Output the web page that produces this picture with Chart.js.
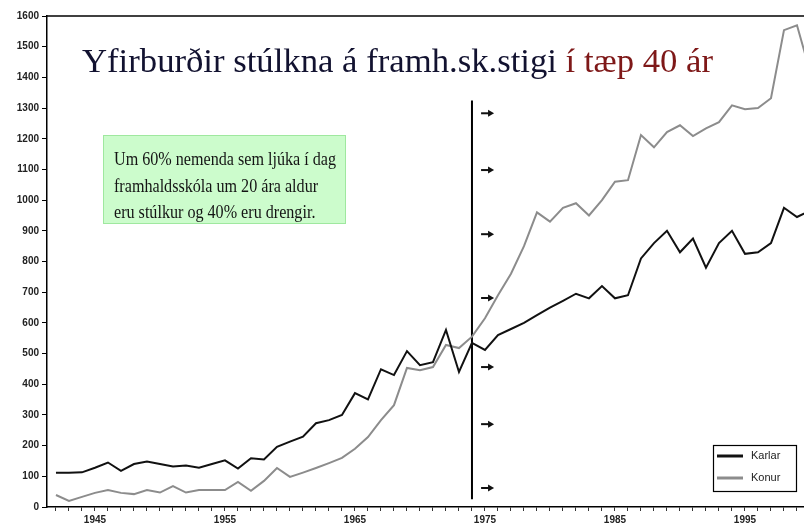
<!DOCTYPE html>
<html lang="is">
<head>
    <meta charset="UTF-8">
    <title>Yfirburðir stúlkna á framh.sk.stigi</title>
    <script src="https://cdn.jsdelivr.net/npm/chart.js"></script>
    <style>
        html, body { margin: 0; padding: 0; background: #fff; overflow: hidden; }
        canvas { display: block; }
    </style>
</head>
<body>
    <canvas id="chart" width="804" height="529"></canvas>

    <script>
        // ár (1942 - 2000)
        const years = [1942, 1943, 1944, 1945, 1946, 1947, 1948, 1949, 1950, 1951,
                       1952, 1953, 1954, 1955, 1956, 1957, 1958, 1959, 1960, 1961,
                       1962, 1963, 1964, 1965, 1966, 1967, 1968, 1969, 1970, 1971,
                       1972, 1973, 1974, 1975, 1976, 1977, 1978, 1979, 1980, 1981,
                       1982, 1983, 1984, 1985, 1986, 1987, 1988, 1989, 1990, 1991,
                       1992, 1993, 1994, 1995, 1996, 1997, 1998, 1999, 2000];

        const karlar = [112, 112, 113, 128, 145, 118, 140, 148, 140, 132,
                        135, 128, 140, 152, 125, 159, 155, 196, 213, 229,
                        273, 283, 300, 371, 351, 449, 430, 508, 462, 472,
                        577, 440, 535, 512, 560, 580, 600, 625, 650, 672,
                        695, 680, 720, 680, 690, 810, 860, 900, 830, 875,
                        780, 860, 900, 825, 830, 860, 975, 945, 965];

        const konur = [39, 20, 33, 46, 55, 46, 42, 55, 47, 68,
                       47, 55, 55, 55, 82, 53, 85, 127, 98, 112,
                       127, 143, 160, 190, 228, 283, 332, 453, 446, 456,
                       528, 518, 555, 615, 690, 760, 850, 960, 930, 975,
                       990, 950, 1000, 1060, 1065, 1212, 1172, 1222, 1244, 1209,
                       1234, 1254, 1309, 1296, 1300, 1332, 1554, 1570, 1420];

        const seriesNames = ['Karlar', 'Konur'];
        const seriesColors = ['#111111', '#8c8c8c'];

        // lóðrétt lína við 1974 og örvarnar hægra megin við hana
        const markerYear = 1974;
        const markerRange = [25, 1325];
        const arrowYears = [1974.7, 1975.7];
        const arrowValues = [1283, 1098, 889, 681, 456, 270, 62];

        const yTicks = [0, 100, 200, 300, 400, 500, 600, 700, 800, 900, 1000, 1100, 1200, 1300, 1400, 1500, 1600];
        const xLabelYears = [1945, 1955, 1965, 1975, 1985, 1995];

        const titleMain = 'Yfirburðir stúlkna á framh.sk.stigi ';
        const titleEnd = 'í tæp 40 ár';
        const noteLines = ['Um 60% nemenda sem ljúka í dag',
                           'framhaldsskóla um 20 ára aldur',
                           'eru stúlkur og 40% eru drengir.'];

        const xMin = 1941.31;
        const xMax = 1999.54;

        const toPoints = vals => vals.map((v, i) => ({ x: years[i], y: v }));

        const decorations = {
            id: 'decorations',
            afterDatasetsDraw(chart) {
                const ctx = chart.ctx;
                const area = chart.chartArea;
                const xs = chart.scales.x;
                const ys = chart.scales.y;
                ctx.save();

                // efri rammalína
                ctx.strokeStyle = '#000';
                ctx.lineWidth = 1.5;
                ctx.beginPath();
                ctx.moveTo(area.left, area.top);
                ctx.lineTo(area.right, area.top);
                ctx.stroke();

                // örvar
                ctx.fillStyle = '#111';
                ctx.strokeStyle = '#111';
                ctx.lineWidth = 2;
                arrowValues.forEach(v => {
                    const x0 = xs.getPixelForValue(arrowYears[0]);
                    const x1 = xs.getPixelForValue(arrowYears[1]);
                    const y = ys.getPixelForValue(v);
                    ctx.beginPath();
                    ctx.moveTo(x0, y);
                    ctx.lineTo(x1 - 4, y);
                    ctx.stroke();
                    ctx.beginPath();
                    ctx.moveTo(x1, y);
                    ctx.lineTo(x1 - 6, y - 3.5);
                    ctx.lineTo(x1 - 6, y + 3.5);
                    ctx.closePath();
                    ctx.fill();
                });

                // titill
                ctx.font = '34.7px "Liberation Serif", "Times New Roman", serif';
                ctx.textBaseline = 'alphabetic';
                ctx.textAlign = 'left';
                ctx.fillStyle = '#121230';
                ctx.fillText(titleMain, 82, 72);
                const w = ctx.measureText(titleMain).width;
                ctx.fillStyle = '#7e1818';
                ctx.fillText(titleEnd, 82 + w, 72);

                // græni kassinn
                ctx.fillStyle = '#ccfccc';
                ctx.fillRect(103, 135, 243, 89);
                ctx.strokeStyle = '#9fe89f';
                ctx.lineWidth = 1;
                ctx.strokeRect(103.5, 135.5, 242, 88);
                ctx.font = '19px "Liberation Serif", "Times New Roman", serif';
                ctx.fillStyle = '#141414';
                const scale = 222 / ctx.measureText(noteLines[0]).width;
                noteLines.forEach((line, i) => {
                    const lw = ctx.measureText(line).width * scale;
                    ctx.fillText(line, 114, 165 + i * 26.5, lw);
                });

                // skýringar
                ctx.fillStyle = '#fff';
                ctx.fillRect(713, 445, 83, 46);
                ctx.strokeStyle = '#000';
                ctx.lineWidth = 1.2;
                ctx.strokeRect(713.5, 445.5, 83, 46);
                ctx.font = '11px "Liberation Sans", Arial, sans-serif';
                ctx.textBaseline = 'middle';
                seriesNames.forEach((name, i) => {
                    const y = 456 + i * 22;
                    ctx.strokeStyle = seriesColors[i];
                    ctx.lineWidth = 3;
                    ctx.beginPath();
                    ctx.moveTo(717, y);
                    ctx.lineTo(743, y);
                    ctx.stroke();
                    ctx.fillStyle = '#222';
                    ctx.fillText(name, 751, y);
                });

                ctx.restore();
            }
        };

        const tickFont = { family: '"Liberation Sans", Arial, sans-serif', size: 10, weight: 'bold' };

        new Chart(document.getElementById('chart'), {
            type: 'line',
            data: {
                datasets: [
                    {
                        label: seriesNames[0],
                        data: toPoints(karlar),
                        borderColor: seriesColors[0],
                        borderWidth: 2,
                        pointRadius: 0,
                        tension: 0
                    },
                    {
                        label: seriesNames[1],
                        data: toPoints(konur),
                        borderColor: seriesColors[1],
                        borderWidth: 2,
                        pointRadius: 0,
                        tension: 0
                    },
                    {
                        label: 'marker',
                        data: [{ x: markerYear, y: markerRange[0] }, { x: markerYear, y: markerRange[1] }],
                        borderColor: '#000',
                        borderWidth: 2,
                        pointRadius: 0
                    }
                ]
            },
            options: {
                responsive: false,
                animation: false,
                devicePixelRatio: 1,
                layout: { padding: { top: 16, right: 0, left: 0, bottom: 0 } },
                plugins: {
                    legend: { display: false },
                    tooltip: { enabled: false }
                },
                scales: {
                    x: {
                        type: 'linear',
                        min: xMin,
                        max: xMax,
                        afterBuildTicks: s => {
                            s.ticks = years.filter(y => y >= xMin && y <= xMax).map(v => ({ value: v }));
                        },
                        afterFit: s => { s.height = 22; },
                        ticks: {
                            autoSkip: false,
                            maxRotation: 0,
                            padding: 3,
                            color: '#222',
                            font: tickFont,
                            callback: v => xLabelYears.includes(v) ? String(v) : ''
                        },
                        grid: { drawOnChartArea: false, tickLength: 4, color: '#333', tickWidth: 1 },
                        border: { color: '#000', width: 1.5 }
                    },
                    y: {
                        min: 0,
                        max: 1600,
                        afterBuildTicks: s => {
                            s.ticks = yTicks.map(v => ({ value: v }));
                        },
                        afterFit: s => { s.width = 47; },
                        ticks: {
                            padding: 3,
                            color: '#222',
                            font: tickFont,
                            callback: v => String(v)
                        },
                        grid: { drawOnChartArea: false, tickLength: 5, color: '#000', tickWidth: 1 },
                        border: { color: '#000', width: 1.5 }
                    }
                }
            },
            plugins: [decorations]
        });
    </script>
</body>
</html>
